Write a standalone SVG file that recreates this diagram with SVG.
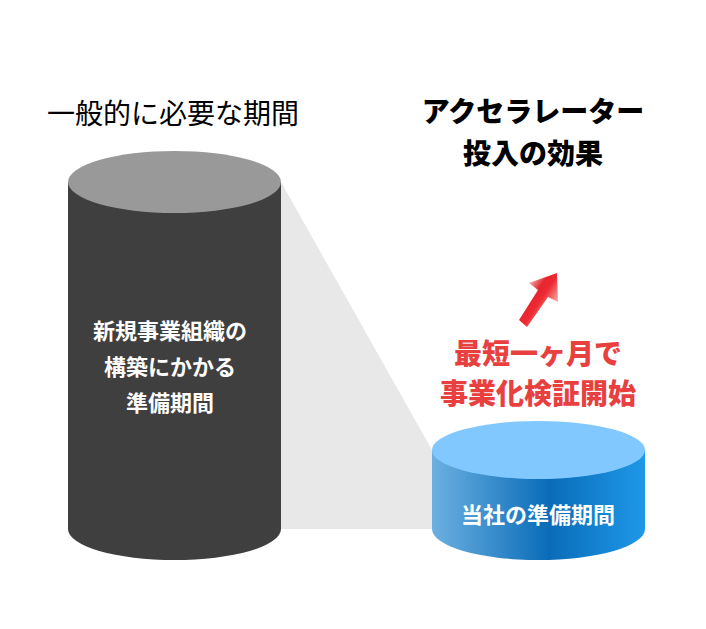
<svg xmlns="http://www.w3.org/2000/svg" width="706" height="629" viewBox="0 0 706 629">
<defs>
<linearGradient id="blue" x1="0" x2="1" y1="0" y2="0"><stop offset="0" stop-color="#6cb0e0"/><stop offset="0.55" stop-color="#0a6cb8"/><stop offset="1" stop-color="#1e98e8"/></linearGradient>
<linearGradient id="arr" gradientUnits="userSpaceOnUse" x1="525" y1="288" x2="555" y2="308"><stop offset="0" stop-color="#f9b0b0"/><stop offset="0.33" stop-color="#e62530"/><stop offset="0.55" stop-color="#ee2a33"/><stop offset="0.75" stop-color="#f26a6a"/><stop offset="1" stop-color="#f8b8b8"/></linearGradient>
</defs>
<style>
text{font-family:"Noto Sans CJK JP","Noto Sans",sans-serif;text-anchor:middle}
.h{font-size:28px;font-weight:400;fill:#000}
.b{font-size:28px;font-weight:900;fill:#000}
.w{font-size:22px;font-weight:700;fill:#fff}
.r{font-size:28px;font-weight:900;fill:#e8403f}
</style>
<g id="connectors"><polygon points="281,182 432,450 432,529 281,529" fill="#e8e8e8"/></g>
<g id="cyl-left">
<path d="M68,182V529A106.500,31 0 0 0 281,529V182Z" fill="#3f3f3f"/>
<ellipse cx="174.500" cy="182" rx="106.500" ry="31" fill="#999"/>
<text class="w" x="170" y="339">新規事業組織の</text><text class="w" x="170" y="375">構築にかかる</text><text class="w" x="170" y="411">準備期間</text>
</g>
<g id="cyl-right">
<path d="M432,450V529A106.500,31 0 0 0 645,529V450Z" fill="url(#blue)"/>
<ellipse cx="538.500" cy="450" rx="106.500" ry="29" fill="#80c8ff"/>
<text class="w" x="538" y="523">当社の準備期間</text>
</g>
<g id="title-left"><text class="h" x="173" y="124">一般的に必要な期間</text></g>
<g id="title-right"><text class="b" x="533" y="122">アクセラレーター</text><text class="b" x="533" y="164">投入の効果</text></g>
<g id="label-red"><text class="r" x="538" y="364">最短一ヶ月で</text><text class="r" x="538" y="404">事業化検証開始</text></g>
<g id="arrow"><polygon points="557,273 558,302 548,297 527,327 519,320 538,290 529,283" fill="url(#arr)"/></g>
</svg>
